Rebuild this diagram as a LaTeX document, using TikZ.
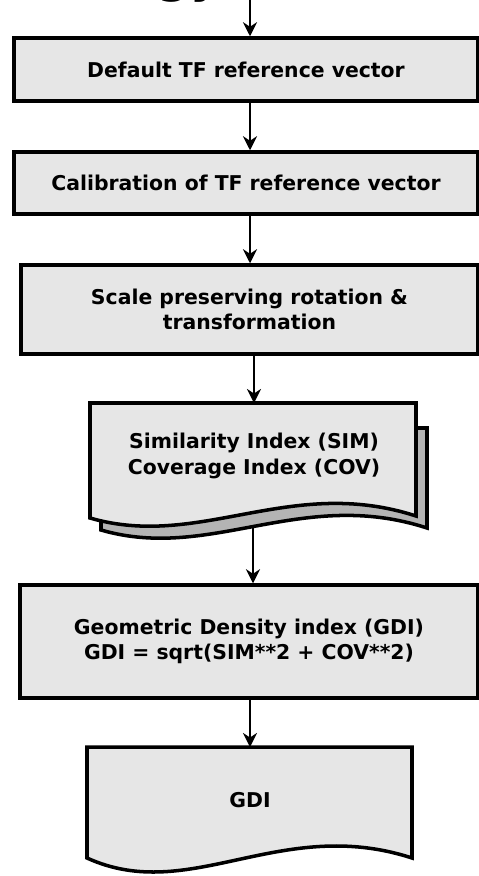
\documentclass[tikz,border=0pt]{standalone}
\usepackage{fontspec}
\setmainfont{DejaVu Sans}
\usetikzlibrary{arrows.meta, positioning, calc}
\definecolor{BoxGray}{HTML}{E6E6E6}
\definecolor{ShadowGray}{HTML}{B4B4B4}
\tikzset{
  stepbox/.style={draw=black, line width=2pt, fill=BoxGray, rectangle, inner sep=0pt, align=center, font=\bfseries\fontsize{11.6}{14.6}\selectfont},
  doctext/.style={inner sep=0pt, align=center, font=\bfseries\fontsize{11.6}{14.6}\selectfont},
  docline/.style={draw=black, line width=2pt},
  flowarrow/.style={-{Stealth[length=8pt, width=8pt]}, line width=1.1pt},
}
\begin{document}
\begin{tikzpicture}[x=0.02cm, y=-0.02cm]
                    \useasboundingbox (0,0) rectangle (479,876);
                    \clip (0,0) rectangle (479,876);
                    \node[anchor=base east, font=\bfseries\fontsize{26}{30}\selectfont] (title) at (226,-8) {Methodology};
                    \coordinate (start) at (250,-5);
                    \coordinate (axis) at (250,0);

                    \node[stepbox, minimum width=9.28cm, minimum height=1.26cm] (default) at (246,69.5) {Default TF reference vector};
                    \node[stepbox, minimum width=9.28cm, minimum height=1.24cm] (calib) at (246,183) {Calibration of TF reference vector};
                    \node[stepbox, minimum width=9.14cm, minimum height=1.78cm] (rotate) at (249.5,309.5) {Scale preserving rotation \&\\transformation};

                    \draw[docline, fill=ShadowGray] (101,428) -- (427,428) -- (427,528) .. controls (301,487) and (211,562) .. (101,530) -- cycle;
                    \draw[docline, fill=BoxGray] (90,403) -- (416,403) -- (416,516) .. controls (290,475) and (200,550) .. (90,518) -- cycle;
                    \node[doctext, minimum width=6.52cm, minimum height=2.1cm, anchor=north] (simcov) at (254,403) {Similarity Index (SIM)\\Coverage Index (COV)};
                    \coordinate (simcovout) at (253,527);

                    \node[stepbox, minimum width=9.16cm, minimum height=2.26cm] (gdicalc) at (249,641.5) {Geometric Density index (GDI)\\GDI = sqrt(SIM**2 + COV**2)};

                    \draw[docline, fill=BoxGray] (87,747) -- (412,747) -- (412,858) .. controls (280,815) and (190,905) .. (87,858) -- cycle;
                    \node[doctext, minimum width=6.5cm, minimum height=2.1cm, anchor=north] (gdi) at (250,747) {GDI};

                    \draw[flowarrow] (start) -- (default.north -| axis);
                    \draw[flowarrow] (default.south -| axis) -- (calib.north -| axis);
                    \draw[flowarrow] (calib.south -| axis) -- (rotate.north -| axis);
                    \draw[flowarrow] (rotate.south -| simcov.north) -- (simcov.north);
                    \draw[flowarrow] (simcovout) -- (gdicalc.north -| simcovout);
                    \draw[flowarrow] (gdicalc.south -| axis) -- (gdi.north -| axis);
                \end{tikzpicture}
\end{document}
